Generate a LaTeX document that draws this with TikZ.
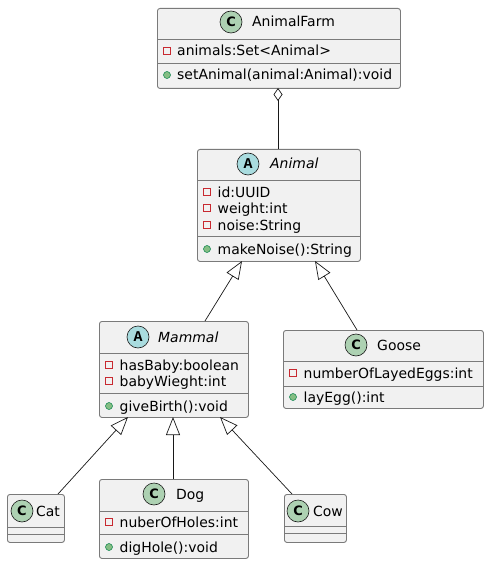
\documentclass[tikz,border=0pt]{standalone}
\usepackage{fontspec}
\setmainfont{DejaVu Sans}
\newfontfamily\monobold{Liberation Mono}
\usetikzlibrary{arrows.meta}
\definecolor{boxfill}{HTML}{F1F1F1}
\definecolor{boxline}{HTML}{7A7A7A}
\definecolor{edgeline}{HTML}{181818}
\definecolor{cfill}{HTML}{ADD1B2}
\definecolor{afill}{HTML}{A9DCDF}
\definecolor{privred}{HTML}{C82930}
\definecolor{pubfill}{HTML}{84BE84}
\definecolor{publine}{HTML}{038048}
\begin{document}
\begin{tikzpicture}[x=1bp,y=-1bp,
  umlbox/.style={draw=boxline, fill=boxfill, line width=0.9bp, rounded corners=2.5bp, anchor=north west, inner sep=0pt},
  sep/.style={draw=boxline, line width=0.9bp},
  mem/.style={anchor=base west, inner sep=0pt, font=\fontsize{14}{16}\selectfont},
  cname/.style={anchor=base west, inner sep=0pt, font=\fontsize{14}{16}\selectfont},
  aname/.style={anchor=base west, inner sep=0pt, font=\fontsize{14}{16}\selectfont\itshape},
  ccirc/.style={circle, draw=edgeline, line width=0.6bp, fill=cfill, minimum size=22bp, inner sep=0pt, font=\fontsize{13}{13}\selectfont\bfseries},
  acirc/.style={circle, draw=edgeline, line width=0.6bp, fill=afill, minimum size=22bp, inner sep=0pt, font=\fontsize{15}{15}\selectfont\monobold\bfseries},
  priv/.style={rectangle, draw=privred, fill=boxfill, line width=1bp, minimum width=7bp, minimum height=7bp, inner sep=0pt},
  pub/.style={circle, draw=publine, fill=pubfill, line width=0.5bp, minimum size=7bp, inner sep=0pt},
  inh/.style={draw=edgeline, line width=0.7bp, -{Triangle[open,length=18bp,width=14bp]}},
  agg/.style={draw=edgeline, line width=0.7bp, -{Diamond[open,length=13bp,width=9bp]}}
]
\useasboundingbox (0,0) rectangle (489,564);

% AnimalFarm
\node[umlbox, minimum width=243bp, minimum height=80bp] (animalfarm) at (157,8) {};
\draw[sep] (157,39) -- (400,39);
\draw[sep] (157,63) -- (400,63);
\node[ccirc] (af-c) at (231,22) {C};
\node[cname] (af-name) at (252,27) {AnimalFarm};
\node[priv] (af-p1) at (167,51) {};
\node[mem] (af-a1) at (177,56) {animals:Set<Animal>};
\node[pub] (af-m1i) at (167,75) {};
\node[mem] (af-m1) at (177,80) {setAnimal(animal:Animal):void};

% Animal
\node[umlbox, minimum width=163bp, minimum height=112bp] (animal) at (197,149) {};
\draw[sep] (197,180) -- (360,180);
\draw[sep] (197,236) -- (360,236);
\node[acirc] (an-c) at (248,164) {A};
\node[aname] (an-name) at (270,169) {Animal};
\node[priv] (an-p1) at (207,192) {};
\node[mem] (an-a1) at (217.5,197) {id:UUID};
\node[priv] (an-p2) at (207,208) {};
\node[mem] (an-a2) at (217.5,213.5) {weight:int};
\node[priv] (an-p3) at (207,225) {};
\node[mem] (an-a3) at (217.5,230) {noise:String};
\node[pub] (an-m1i) at (207,249) {};
\node[mem] (an-m1) at (217.5,254) {makeNoise():String};

% Mammal
\node[umlbox, minimum width=149bp, minimum height=96bp] (mammal) at (99,321) {};
\draw[sep] (99,353) -- (248,353);
\draw[sep] (99,393) -- (248,393);
\node[acirc] (ma-c) at (138,337) {A};
\node[aname] (ma-name) at (158,342) {Mammal};
\node[priv] (ma-p1) at (109,365) {};
\node[mem] (ma-a1) at (119.5,370) {hasBaby:boolean};
\node[priv] (ma-p2) at (109,381) {};
\node[mem] (ma-a2) at (119.5,386.5) {babyWieght:int};
\node[pub] (ma-m1i) at (109,406) {};
\node[mem] (ma-m1) at (119.5,411) {giveBirth():void};

% Goose
\node[umlbox, minimum width=200bp, minimum height=78bp] (goose) at (283,330) {};
\draw[sep] (283,361) -- (483,361);
\draw[sep] (283,386) -- (483,386);
\node[ccirc] (go-c) at (356,345) {C};
\node[cname] (go-name) at (377,350) {Goose};
\node[priv] (go-p1) at (293,373) {};
\node[mem] (go-a1) at (303.5,378) {numberOfLayedEggs:int};
\node[pub] (go-m1i) at (293,397) {};
\node[mem] (go-m1) at (303.5,402) {layEgg():int};

% Cat
\node[umlbox, minimum width=57bp, minimum height=48bp] (cat) at (7,494) {};
\draw[sep] (7,527) -- (64,527);
\draw[sep] (7,534) -- (64,534);
\node[ccirc] (ca-c) at (22,511) {C};
\node[cname] (ca-name) at (36,516) {Cat};

% Dog
\node[umlbox, minimum width=149bp, minimum height=79bp] (dog) at (99,479) {};
\draw[sep] (99,511) -- (248,511);
\draw[sep] (99,534) -- (248,534);
\node[ccirc] (do-c) at (154,494) {C};
\node[cname] (do-name) at (176,499) {Dog};
\node[priv] (do-p1) at (109,522) {};
\node[mem] (do-a1) at (119.5,527) {nuberOfHoles:int};
\node[pub] (do-m1i) at (109,547) {};
\node[mem] (do-m1) at (119.5,552) {digHole():void};

% Cow
\node[umlbox, minimum width=62bp, minimum height=48bp] (cow) at (284,494) {};
\draw[sep] (284,526) -- (346,526);
\draw[sep] (284,533) -- (346,533);
\node[ccirc] (co-c) at (298,511) {C};
\node[cname] (co-name) at (313,516) {Cow};

% connector end points on the box borders
\coordinate (af-b) at (278,88);
\coordinate (an-t) at (278,149);
\coordinate (an-b1) at (242,261);
\coordinate (an-b2) at (315,261);
\coordinate (ma-t) at (205,321);
\coordinate (go-t) at (357,330);
\coordinate (ma-b1) at (128,417);
\coordinate (ma-b2) at (173,417);
\coordinate (ma-b3) at (220,417);
\coordinate (ca-t) at (58,494);
\coordinate (do-t) at (173,479);
\coordinate (co-t) at (292,494);

\draw[agg] (an-t) -- (af-b);
\draw[inh] (ma-t) -- (an-b1);
\draw[inh] (go-t) -- (an-b2);
\draw[inh] (ca-t) -- (ma-b1);
\draw[inh] (do-t) -- (ma-b2);
\draw[inh] (co-t) -- (ma-b3);
\end{tikzpicture}
\end{document}
